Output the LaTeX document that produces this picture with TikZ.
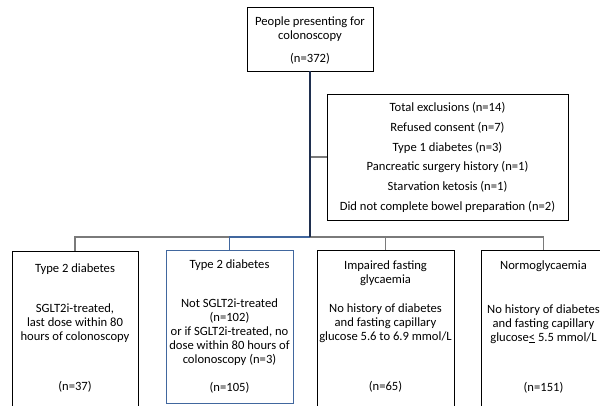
\documentclass[tikz,border=0pt]{standalone}
\usepackage{fontspec}
\setmainfont{Carlito}
\definecolor{bluebox}{HTML}{41679E}
\definecolor{navyline}{HTML}{1F2F4F}
\definecolor{grayline}{HTML}{7A7A7A}
\tikzset{
  box/.style={draw=black, line width=0.9pt, fill=white, inner sep=0pt},
  conn/.style={draw=grayline, line width=1.4pt},
  txt/.style={inner sep=0pt, align=center, font=\fontsize{12.6}{14}\selectfont},
}
\begin{document}
\begin{tikzpicture}[x=1pt,y=-1pt]
\useasboundingbox (0,0) rectangle (600,405);
\clip (0,0) rectangle (600,405);
% boxes
\node[box, minimum width=126, minimum height=64] (top) at (310,39) {};
\node[box, minimum width=241, minimum height=126] (excl) at (447.5,157) {};
\node[box, minimum width=126, minimum height=159] (b1) at (75,330.5) {};
\node[box, draw=bluebox, minimum width=127, minimum height=153] (b2) at (229.5,326.5) {};
\node[box, minimum width=137, minimum height=160] (b3) at (385.5,330) {};
\node[box, minimum width=125, minimum height=160] (b4) at (543.5,330) {};
% connectors
\coordinate (j) at (310,237);
\coordinate (ex) at (310,157);
\draw[conn] (j) -| (b1.north);
\draw[conn] (j) -| (b3.north);
\draw[conn] (j) -| (b4.north);
\draw[conn, draw=bluebox] (j) -| (b2.north);
\draw[conn] (ex) -- (excl.west);
\draw[conn, draw=navyline] (top.south) -- (j);
% texts
\node[txt] (t1) at (310,29) {People presenting for\\colonoscopy};
\node[txt] (t2) at (310,59) {(n=372)};
\node[txt] (e1) at (447.5,108) {Total exclusions (n=14)};
\node[txt] (e2) at (447.5,128) {Refused consent (n=7)};
\node[txt] (e3) at (447.5,148) {Type 1 diabetes (n=3)};
\node[txt] (e4) at (447.5,167) {Pancreatic surgery history (n=1)};
\node[txt] (e5) at (447.5,187) {Starvation ketosis (n=1)};
\node[txt] (e6) at (447.5,207) {Did not complete bowel preparation (n=2)};
% box 1
\node[txt] (a1) at (75,269) {Type 2 diabetes};
\node[txt] (a2) at (75,323) {SGLT2i-treated,\\last dose within 80\\hours of colonoscopy};
\node[txt] (a3) at (75,387) {(n=37)};
% box 2
\node[txt] (c1) at (229.5,265) {Type 2 diabetes};
\node[txt] (c2) at (229.5,332) {Not SGLT2i-treated\\(n=102)\\or if SGLT2i-treated, no\\dose within 80 hours of\\colonoscopy (n=3)};
\node[txt] (c3) at (229.5,388) {(n=105)};
% box 3
\node[txt] (d1) at (385.5,273.5) {Impaired fasting\\glycaemia};
\node[txt] (d2) at (385.5,323) {No history of diabetes\\and fasting capillary\\glucose 5.6 to 6.9 mmol/L};
\node[txt] (d3) at (385.5,387) {(n=65)};
% box 4
\node[txt] (f1) at (543.5,266) {Normoglycaemia};
\node[txt] (f2) at (543.5,324) {No history of diabetes\\and fasting capillary\\glucose\underline{<} 5.5 mmol/L};
\node[txt] (f3) at (543.5,388) {(n=151)};
\end{tikzpicture}
\end{document}
